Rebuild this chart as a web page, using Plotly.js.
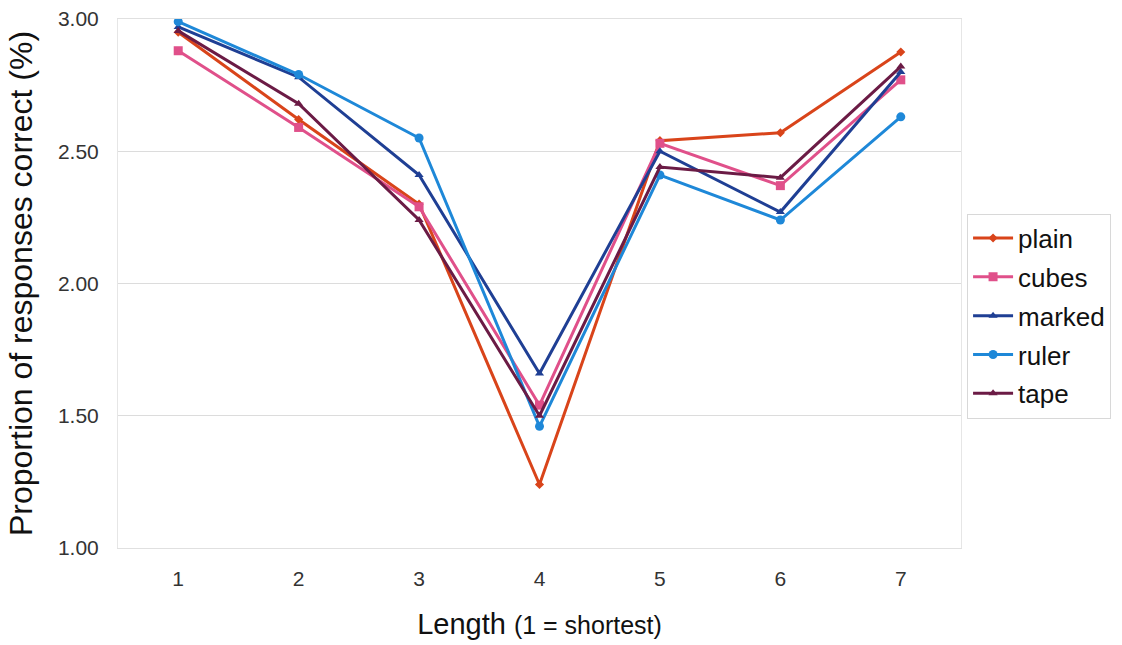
<!DOCTYPE html>
<html>
<head>
<meta charset="utf-8">
<script src="https://cdn.plot.ly/plotly-3.0.1.min.js"></script>
<style>html,body{margin:0;padding:0;background:#fff;}#chart{width:1122px;height:645px;}</style>
</head>
<body>
<div id="chart"></div>
<script>
const lengths = [1, 2, 3, 4, 5, 6, 7];
const seriesNames = ["plain", "cubes", "marked", "ruler", "tape"];
const plain  = [2.95, 2.62, 2.30, 1.24, 2.54, 2.57, 2.875];
const cubes  = [2.88, 2.59, 2.29, 1.54, 2.53, 2.37, 2.77];
const marked = [2.97, 2.78, 2.41, 1.66, 2.50, 2.27, 2.80];
const ruler  = [2.99, 2.79, 2.55, 1.46, 2.41, 2.24, 2.63];
const tape   = [2.955, 2.68, 2.24, 1.50, 2.44, 2.40, 2.82];
const yTicks = [1.00, 1.50, 2.00, 2.50, 3.00];

const values = [plain, cubes, marked, ruler, tape];
const colors = ["#D9441A", "#E0508A", "#1F3F94", "#1E88D8", "#6B1B45"];
const symbols = ["diamond", "square", "triangle-up", "circle", "triangle-up"];
const sizes = [7, 9, 8, 9, 8];

const traces = seriesNames.map((n, i) => ({
  x: lengths, y: values[i], name: n, type: "scatter", mode: "lines+markers",
  legendgroup: n,
  line: {color: colors[i], width: 3},
  marker: {color: colors[i], symbol: symbols[i], size: sizes[i]}
}));

const layout = {
  width: 1122, height: 645,
  paper_bgcolor: "#fff", plot_bgcolor: "#fff",
  margin: {l: 118, r: 160, t: 19, b: 97},
  font: {family: "Liberation Sans, Arial, sans-serif", color: "#222"},
  showlegend: true,
  legend: {
    x: 1.006, xanchor: "left", y: 0.632, yanchor: "top",
    bgcolor: "#fff", bordercolor: "#d8d8d8", borderwidth: 1,
    font: {size: 26, color: "#111"}, tracegroupgap: 2, itemwidth: 40
  },
  xaxis: {
    range: [0.5, 7.5], tickvals: lengths, ticktext: lengths.map(String),
    tickfont: {size: 21, color: "#333"},
    showgrid: false, zeroline: false,
    showline: true, linecolor: "#e0e0e0", mirror: true,
    ticks: "", ticklen: 0, ticklabelstandoff: 12,
    title: {text: "Length <span style='font-size:25px'>(1 = shortest)</span>", font: {size: 29, color: "#111"}, standoff: 24}
  },
  yaxis: {
    range: [1, 3], tickvals: yTicks, ticktext: yTicks.map(v => v.toFixed(2)),
    tickfont: {size: 21, color: "#333"},
    showgrid: true, gridcolor: "#dcdcdc", gridwidth: 1, zeroline: false,
    showline: true, linecolor: "#e6e6e6", mirror: true,
    ticks: "", ticklabelstandoff: 14,
    title: {text: "Proportion of responses correct (%)", font: {size: 32, color: "#111"}, standoff: 15}
  }
};

Plotly.newPlot("chart", traces, layout, {displayModeBar: false, staticPlot: true});
</script>
</body>
</html>
